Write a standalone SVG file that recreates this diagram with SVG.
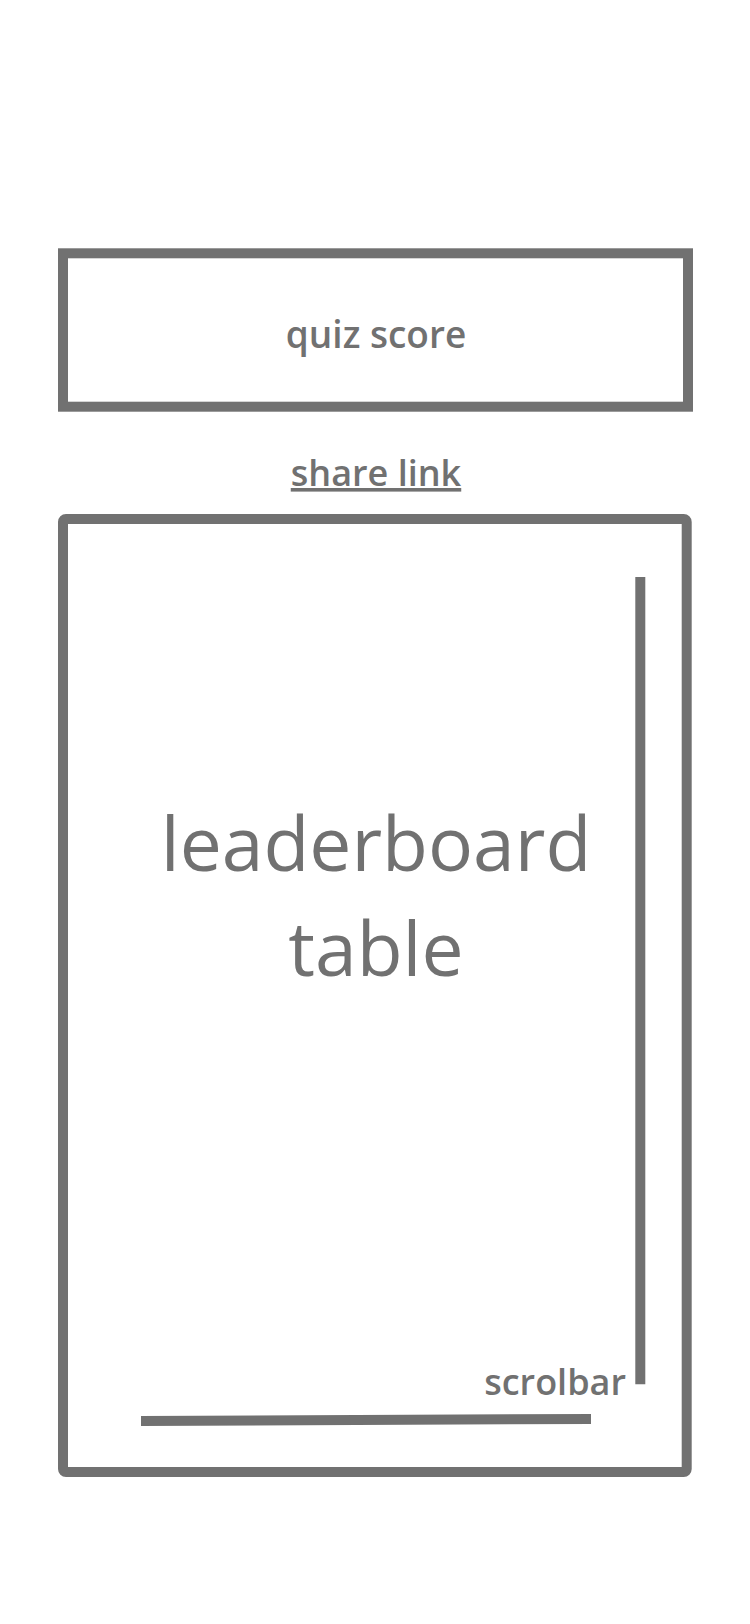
<svg xmlns="http://www.w3.org/2000/svg" width="750" height="1624" viewBox="0 0 750 1624">
<style>
.box{fill:none;stroke:#717171;stroke-width:10}
.bar{stroke:#717171;stroke-width:10;fill:none}
.t{font-family:"Open Sans","Noto Sans",sans-serif;fill:#717171;text-anchor:middle}
.s{font-weight:600;font-size:37px}
.big{font-weight:500;font-size:75px}
</style>
<rect width="750" height="1624" fill="#ffffff"/>
<g id="quiz-score">
<rect class="box" x="63" y="253.3" width="625" height="153.4"/>
<text class="t s" x="376" y="348">quiz score</text>
</g>
<g id="share-link">
<text class="t s" x="376" y="486" style="font-size:36px" text-decoration="underline">share link</text>
</g>
<g id="leaderboard">
<rect class="box" x="63" y="519" width="623.7" height="953" rx="3"/>
<text class="t big" x="376" y="871">leaderboard</text>
<text class="t big" x="376" y="976">table</text>
</g>
<g id="scrollbars">
<line class="bar" x1="640.3" y1="577" x2="640.3" y2="1384.3"/>
<line class="bar" x1="141" y1="1421" x2="591" y2="1419"/>
<text class="t s" x="626" y="1395" style="text-anchor:end;font-size:36px">scrolbar</text>
</g>
</svg>
